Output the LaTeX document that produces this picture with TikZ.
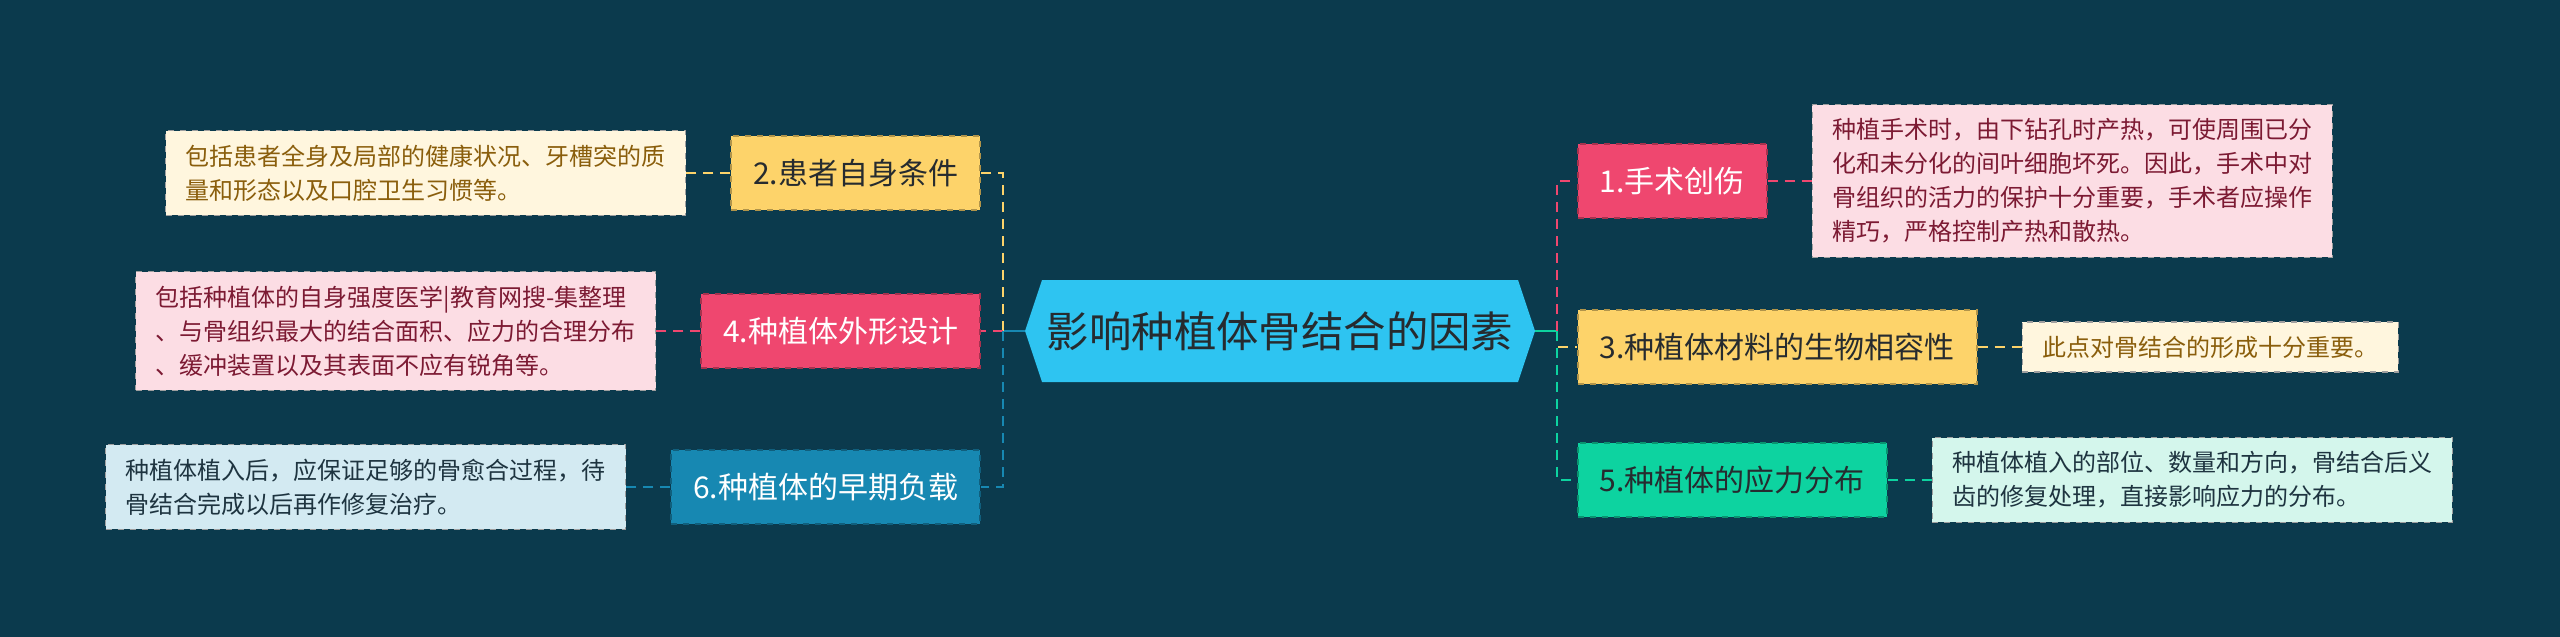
\documentclass[tikz,border=0pt]{standalone}
\usepackage{fontspec}
\setmainfont{Noto Sans CJK SC}
\usetikzlibrary{positioning}
\definecolor{bg}{HTML}{0B3A4D}
\definecolor{cpink}{HTML}{EF476F}
\definecolor{cyellow}{HTML}{FDD36A}
\definecolor{cgreen}{HTML}{0DD3A0}
\definecolor{cblue}{HTML}{1788B2}
\definecolor{chub}{HTML}{2EC4F1}
\definecolor{lpink}{HTML}{FCDDE4}
\definecolor{lcream}{HTML}{FFF6DE}
\definecolor{lmint}{HTML}{D4F6EC}
\definecolor{lblue}{HTML}{D3EAF2}
\definecolor{tpink}{HTML}{7C1A33}
\definecolor{tgold}{HTML}{8A5E0C}
\definecolor{tdark}{HTML}{1E3440}
\definecolor{ttopic}{HTML}{262B2F}
\begin{document}
\begin{tikzpicture}[x=0.5pt,y=-0.5pt,
  topic/.style={fill=#1, draw=#1!70!black, dashed, line width=0.8pt,
    minimum height=37pt, inner xsep=11pt, inner ysep=4pt,
    font=\fontsize{15}{18}\selectfont},
  leaf/.style={fill=#1, draw=gray!75, dashed, line width=0.7pt,
    inner xsep=10pt, inner ysep=7pt, align=left,
    font=\fontsize{12}{17}\selectfont},
  conn/.style={draw=#1, line width=1.4pt, dash pattern=on 5pt off 3.5pt},
  hubline/.style={draw=#1, line width=1.4pt}
]
\fill[bg] (0,0) rectangle (2560,637);
\useasboundingbox (0,0) rectangle (2560,637);

% central hexagon
\fill[chub] (1025,331) -- (1042,280) -- (1518,280) -- (1535,331) -- (1518,382) -- (1042,382) -- cycle;
\node[text=ttopic, font=\fontsize{21.2}{25}\selectfont] (hub) at (1280,331) {影响种植体骨结合的因素};
\coordinate (hubW) at (1025,331);
\coordinate (hubE) at (1535,331);
\coordinate (JL) at (1003,331);
\coordinate (JR) at (1557,331);

% left topics
\node[topic=cyellow, text=ttopic, anchor=east] (n2) at (981,173) {2.患者自身条件};
\node[topic=cpink, text=white, anchor=east] (n4) at (981,331) {4.种植体外形设计};
\node[topic=cblue, text=white, anchor=east] (n6) at (981,487) {6.种植体的早期负载};

% right topics
\node[topic=cpink, text=white, anchor=west] (n1) at (1577,181) {1.手术创伤};
\node[topic=cyellow, text=ttopic, anchor=west] (n3) at (1577,347) {3.种植体材料的生物相容性};
\node[topic=cgreen, text=ttopic, anchor=west] (n5) at (1577,480) {5.种植体的应力分布};

% leaves
\node[leaf=lcream, text=tgold, left=22pt of n2] (l2) {包括患者全身及局部的健康状况、牙槽突的质\\量和形态以及口腔卫生习惯等。};
\node[leaf=lpink, text=tpink, left=22pt of n4] (l4) {包括种植体的自身强度医学|教育网搜-集整理\\、与骨组织最大的结合面积、应力的合理分布\\、缓冲装置以及其表面不应有锐角等。};
\node[leaf=lblue, text=tdark, left=22pt of n6] (l6) {种植体植入后，应保证足够的骨愈合过程，待\\骨结合完成以后再作修复治疗。};
\node[leaf=lpink, text=tpink, right=22pt of n1] (l1) {种植手术时，由下钻孔时产热，可使周围已分\\化和未分化的间叶细胞坏死。因此，手术中对\\骨组织的活力的保护十分重要，手术者应操作\\精巧，严格控制产热和散热。};
\node[leaf=lcream, text=tgold, right=22pt of n3] (l3) {此点对骨结合的形成十分重要。};
\node[leaf=lmint, text=tdark, right=22pt of n5] (l5) {种植体植入的部位、数量和方向，骨结合后义\\齿的修复处理，直接影响应力的分布。};

% trunk connectors
\draw[hubline=cblue] (hubW) -- (JL);
\draw[hubline=cgreen] (hubE) -- (JR);
\draw[conn=cyellow] (JL) |- (n2.east);
\draw[conn=cpink] (JL) -- (n4.east);
\draw[conn=cblue] (JL) |- (n6.east);
\draw[conn=cpink] (JR) |- (n1.west);
\draw[conn=cyellow] (JR) |- (n3.west);
\draw[conn=cgreen] (JR) |- (n5.west);

% leaf connectors
\draw[conn=cyellow] (n2.west) -- (l2.east);
\draw[conn=cpink] (n4.west) -- (l4.east);
\draw[conn=cblue] (n6.west) -- (l6.east);
\draw[conn=cpink] (n1.east) -- (l1.west);
\draw[conn=cyellow] (n3.east) -- (l3.west);
\draw[conn=cgreen] (n5.east) -- (l5.west);
\end{tikzpicture}
\end{document}
